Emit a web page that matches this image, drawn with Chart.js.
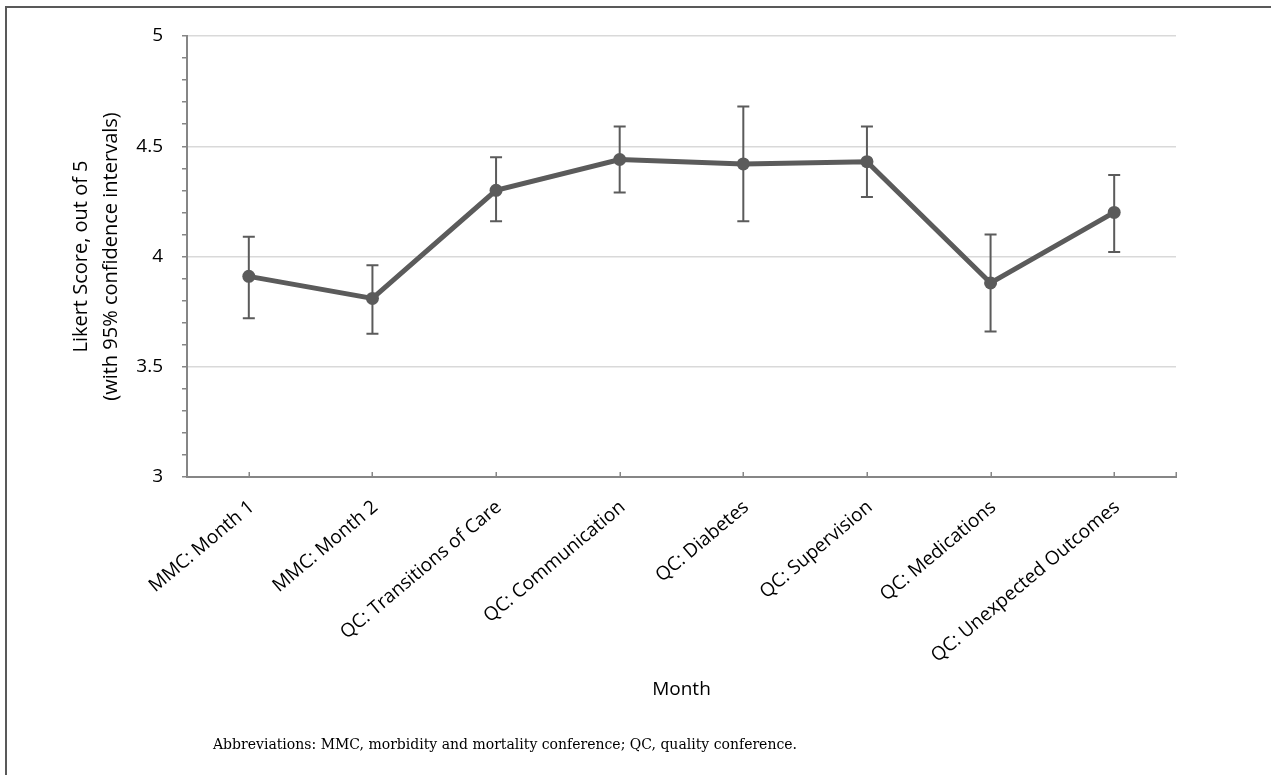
<!DOCTYPE html>
<html>
<head>
<meta charset="utf-8">
<script src="https://cdn.jsdelivr.net/npm/chart.js@4"></script>
<style>
html,body{margin:0;padding:0;background:#fff;}
#wrap{position:relative;width:1271px;height:775px;overflow:hidden;background:#fff;}
canvas{position:absolute;left:0;top:0;}
#frame{position:absolute;left:5px;top:6px;width:1300px;height:800px;border-top:2px solid #595959;border-left:2px solid #595959;pointer-events:none;}
#note{position:absolute;left:213px;top:735px;font-family:'DejaVu Serif',serif;font-size:14px;line-height:19px;color:#000;white-space:nowrap;}
</style>
</head>
<body>
<div id="wrap">
  <canvas id="c" width="1271" height="775"></canvas>
  <div id="frame"></div>
  <div id="note">Abbreviations: MMC, morbidity and mortality conference; QC, quality conference.</div>
</div>
<script>
const categories = ['MMC: Month 1','MMC: Month 2','QC: Transitions of Care','QC: Communication','QC: Diabetes','QC: Supervision','QC: Medications','QC: Unexpected Outcomes'];
const meanScores = [3.91, 3.81, 4.30, 4.44, 4.42, 4.43, 3.88, 4.20];
const ciLower   = [3.72, 3.65, 4.16, 4.29, 4.16, 4.27, 3.66, 4.02];
const ciUpper   = [4.09, 3.96, 4.45, 4.59, 4.68, 4.59, 4.10, 4.37];
const yTickValues = [3, 3.5, 4, 4.5, 5];
const yTickLabels = ['3', '3.5', '4', '4.5', '5'];
const yTitleLines = ['Likert Score, out of 5', '(with 95% confidence intervals)'];
const xTitle = 'Month';

const GREY = '#5b5b5b';
const AXIS = '#868686';
const FONT = 'Open Sans';

function majorIndex(v){ return yTickValues.findIndex(t => Math.abs(t - v) < 1e-6); }

const errorBars = {
  id: 'errorBars',
  beforeDatasetsDraw(chart){
    const ctx = chart.ctx, ys = chart.scales.y, meta = chart.getDatasetMeta(0);
    ctx.save();
    ctx.strokeStyle = GREY;
    ctx.lineWidth = 2;
    meta.data.forEach((pt, i) => {
      const x = pt.x, yl = ys.getPixelForValue(ciLower[i]), yu = ys.getPixelForValue(ciUpper[i]);
      ctx.beginPath();
      ctx.moveTo(x, yl); ctx.lineTo(x, yu);
      ctx.moveTo(x - 6, yl); ctx.lineTo(x + 6, yl);
      ctx.moveTo(x - 6, yu); ctx.lineTo(x + 6, yu);
      ctx.stroke();
    });
    ctx.restore();
  }
};

const innerXTicks = {
  id: 'innerXTicks',
  afterDraw(chart){
    const ctx = chart.ctx, xs = chart.scales.x, b = chart.chartArea.bottom;
    const pos = [xs.left, xs.right];
    categories.forEach((c, i) => pos.push(xs.getPixelForValue(i)));
    ctx.save();
    ctx.strokeStyle = AXIS;
    ctx.lineWidth = 1.5;
    ctx.beginPath();
    pos.forEach(p => { const x = Math.round(p) + 0.25; ctx.moveTo(x, b - 5); ctx.lineTo(x, b); });
    ctx.stroke();
    ctx.restore();
  }
};

new Chart(document.getElementById('c'), {
  type: 'line',
  data: {
    labels: categories,
    datasets: [{
      data: meanScores,
      borderColor: GREY,
      backgroundColor: GREY,
      borderWidth: 5,
      pointRadius: 6.5,
      pointBackgroundColor: GREY,
      pointBorderColor: GREY,
      pointBorderWidth: 0,
      tension: 0,
      fill: false
    }]
  },
  options: {
    responsive: false,
    animation: false,
    devicePixelRatio: 1,
    layout: { padding: { left: 0, right: 95, top: 36, bottom: 0 } },
    plugins: { legend: { display: false }, tooltip: { enabled: false }, title: { display: false } },
    scales: {
      x: {
        type: 'category',
        offset: true,
        grid: { display: true, drawOnChartArea: false, drawTicks: false },
        border: { display: true, color: AXIS, width: 2 },
        ticks: { autoSkip: false, maxRotation: 40, minRotation: 40, padding: 19, labelOffset: 3, color: '#000', font: { family: FONT, size: 19 } },
        title: { display: true, text: xTitle, color: '#000', font: { family: FONT, size: 19, lineHeight: 1.2 }, padding: { top: 0, bottom: 74 } },
        afterFit(s){ s.height = 298; }
      },
      y: {
        min: 3, max: 5,
        grid: {
          color: c => (majorIndex(c.tick.value) > 0 ? '#d9d9d9' : 'rgba(0,0,0,0)'),
          lineWidth: 1.5,
          drawTicks: true,
          tickLength: 5,
          tickColor: AXIS,
          tickWidth: 1.5
        },
        border: { display: true, color: AXIS, width: 2 },
        ticks: {
          stepSize: 0.1,
          autoSkip: false,
          padding: 19,
          color: '#000',
          font: { family: FONT, size: 19 },
          callback: v => { const i = majorIndex(v); return i >= 0 ? yTickLabels[i] : ''; }
        },
        title: { display: true, text: yTitleLines, color: '#000', font: { family: FONT, size: 20, lineHeight: 1.5 }, padding: { top: 66, bottom: 0 } },
        afterFit(s){ s.width = 187; }
      }
    }
  },
  plugins: [errorBars, innerXTicks]
});
</script>
</body>
</html>
